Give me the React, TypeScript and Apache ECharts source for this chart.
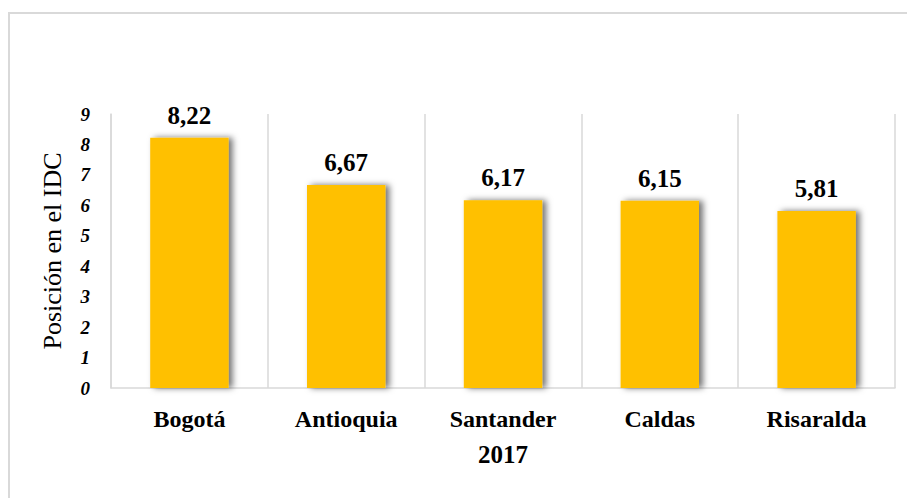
import React, { useEffect, useRef } from "react";
import * as echarts from "echarts";

const categories = ["Bogotá", "Antioquia", "Santander", "Caldas", "Risaralda"];
const values = [8.22, 6.67, 6.17, 6.15, 5.81];
const yTicks = [0, 1, 2, 3, 4, 5, 6, 7, 8, 9];
const xAxisName = "2017";
const yAxisName = "Posición en el IDC";

const SERIF = "Liberation Serif";

export default function App() {
  const ref = useRef<HTMLDivElement>(null);
  useEffect(() => {
    if (!ref.current) return;
    const chart = echarts.init(ref.current, undefined, { renderer: "svg" });
    chart.setOption({
      animation: false,
      backgroundColor: "#ffffff",
      graphic: [
        {
          type: "rect",
          shape: { x: 9, y: 13, width: 920, height: 500 },
          style: { fill: "none", stroke: "#d9d9d9", lineWidth: 2 },
          silent: true,
        },
      ],
      grid: { left: 111, right: 12, top: 114, bottom: 110 },
      xAxis: {
        type: "category",
        data: categories,
        name: xAxisName,
        nameLocation: "middle",
        nameGap: 54,
        nameTextStyle: { fontFamily: SERIF, fontWeight: "bold", fontSize: 25, color: "#000" },
        axisLine: { show: true, lineStyle: { color: "#d9d9d9", width: 1.5 } },
        axisTick: { show: false },
        axisLabel: { margin: 19, fontFamily: SERIF, fontWeight: "bold", fontSize: 24, color: "#000" },
        splitLine: { show: true, lineStyle: { color: "#d9d9d9", width: 1.5 } },
      },
      yAxis: {
        type: "value",
        min: yTicks[0],
        max: yTicks[yTicks.length - 1],
        interval: 1,
        name: yAxisName,
        nameLocation: "middle",
        nameGap: 46,
        nameTextStyle: { fontFamily: SERIF, fontSize: 26, color: "#000" },
        axisLine: { show: true, lineStyle: { color: "#d9d9d9", width: 1.5 } },
        axisTick: { show: false },
        splitLine: { show: false },
        axisLabel: {
          margin: 21,
          fontFamily: SERIF,
          fontWeight: "bold",
          fontStyle: "italic",
          fontSize: 19,
          color: "#000",
        },
      },
      series: [
        {
          type: "bar",
          data: values,
          barWidth: "50%",
          itemStyle: {
            color: "#FFC000",
            shadowColor: "rgba(0,0,0,0.55)",
            shadowBlur: 6,
            shadowOffsetX: 4,
            shadowOffsetY: 0,
          },
          label: {
            show: true,
            position: "top",
            distance: 10,
            fontFamily: SERIF,
            fontWeight: "bold",
            fontSize: 25,
            color: "#000",
            formatter: (p: any) => p.value.toFixed(2).replace(".", ","),
          },
        },
      ],
    });
    return () => chart.dispose();
  }, []);
  return (
    <div
      ref={ref}
      style={{ position: "fixed", left: 0, top: 0, width: 907, height: 498, background: "#fff" }}
    />
  );
}
